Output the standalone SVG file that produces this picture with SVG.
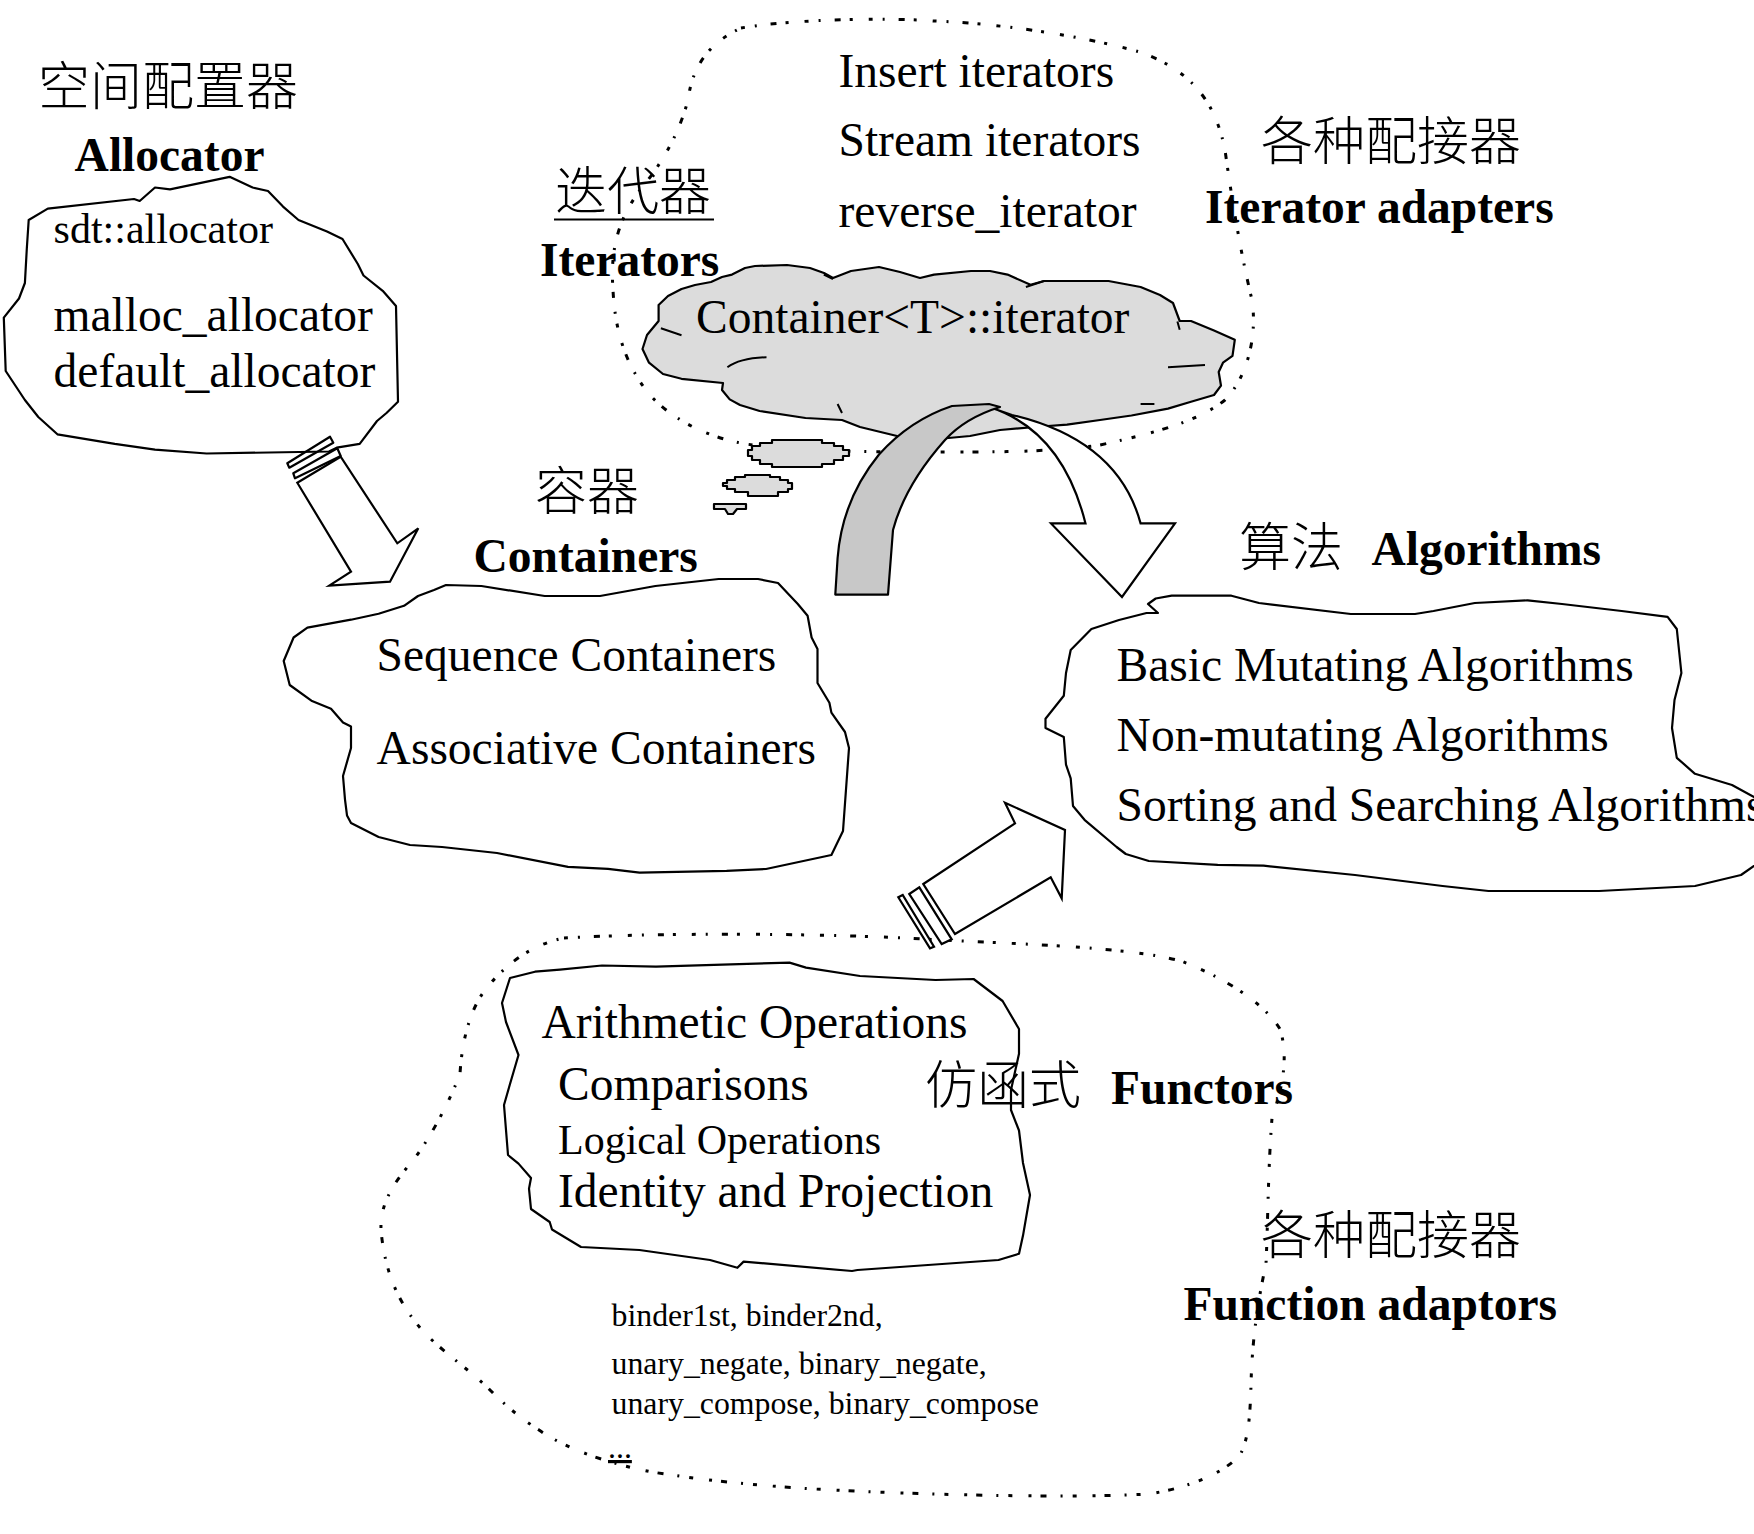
<svg xmlns="http://www.w3.org/2000/svg" width="1754" height="1534" viewBox="0 0 1754 1534">
<style>
.cl{fill:#fff;stroke:#000;stroke-width:2.2;stroke-linejoin:round}
.cn{fill:none;stroke:#000;stroke-width:2.2;stroke-linejoin:round}
.gc{fill:#dcdcdc;stroke:#000;stroke-width:2.2;stroke-linejoin:round}
.ln{fill:none;stroke:#000;stroke-width:2}
.dot{fill:none;stroke:#000;stroke-width:3;stroke-dasharray:4 10 2 14 6 9 3 16}
.ar{fill:#fff;stroke:#000;stroke-width:2.2;stroke-linejoin:miter}
.t{font-family:"Liberation Serif","Times New Roman",serif;font-size:47.5px;fill:#000}
.b{font-weight:bold}
.s42{font-size:42px}
.s32{font-size:31.8px}
.cjk{font-family:"Noto Sans CJK SC","Noto Sans CJK TC",sans-serif;font-size:52px;font-weight:300;fill:#000}
</style>

<g id="allocator">
<path class="cn" d="M28.7,220 L47.8,208.6 L134,199 L139.7,201 L155,187.5 L170,189.4 L229.6,176.8 L252.6,187.5 L268,191 L283,206.6 L298.5,220 L327,231.5 L342.5,239 L357.8,264 L363.5,275.5 L382.7,290.8 L396,306 L398,401.8 L386.5,413 L377,421 L359.7,443.9 L336.7,447.7 L329,451.5 L206.6,453.5 L155,449.6 L114.8,443.9 L57.4,434.3 L38.3,417 L24.9,400 L5.7,371 L3.8,317.6 L19,298.5 L24.9,283 L26.8,248.7 Z"/>
<text class="cjk" x="38" y="105">空间配置器</text>
<text class="t b" x="74.6" y="171">Allocator</text>
<text class="t s42" x="53.6" y="243">sdt::allocator</text>
<text class="t" x="53.6" y="331">malloc_allocator</text>
<text class="t" x="53.6" y="386.5">default_allocator</text>
</g>

<g id="iterators">
<path class="dot" d="M741,28 C800,18 900,18 934,21 C1010,24 1090,38 1140,52 C1190,70 1215,100 1225,150 C1232,200 1240,250 1252,300 C1258,340 1245,380 1225,400 C1200,420 1160,432 1100,445 C1050,452 1000,452 950,452 C880,452 800,452 746,444 C700,436 668,415 650,395 C625,365 615,330 613,290 C610,250 618,220 640,190 C665,160 680,130 688,100 C692,70 705,45 741,28 Z"/>
<path class="gc" d="M658.6,305 L668,296 L681.5,289 L695,285 L711,282 L722,277 L732,274.6 L745,268 L755,266 L787,265 L810,268 L824,273 L833,278 L851,271 L879,267 L900,272 L920,278 L934,274.6 L971,271 L990,271 L1007.5,274.6 L1030.5,284.7 L1044,281 L1108.5,281 L1140.6,287 L1160,295 L1173,303 L1179.7,321 L1191,321 L1214,330.6 L1234.8,339.8 L1232.5,355.8 L1223,362.7 L1218.7,372 L1221,385.7 L1214,395 L1191,401.7 L1168,408.6 L1131.5,415.5 L1100,420 L1067,424.7 L1035,427 L1000,430 L970,436 L943,438.5 L897,436 L860,427 L842,420 L805.5,418 L759.6,411 L740,405 L729.7,399.4 L722,390 L723,383 L681.5,378.8 L663,374 L649,362.7 L642.5,349 L647,335 L658.6,321 Z"/>
<path class="ln" d="M660.9,328.3 L681.5,335.2 M727.4,367.3 Q740,358 766.5,357.2 M1168,367.3 L1205,365 M1140.6,404 L1154.4,404 M823.8,274.6 L833,279 M1025.9,287 L1044,281 M1177.4,321.4 L1179.7,329.7 M837.6,404 L842,413"/>
<path class="gc" d="M752,446 L760,446 L760,443 L772,443 L772,440 L822,440 L822,443 L834,443 L834,446 L843,446 L843,450 L849,450 L849,456 L843,456 L843,460 L834,460 L834,464 L822,464 L822,467 L772,467 L772,464 L760,464 L760,460 L752,460 L752,456 L748,456 L748,450 L752,450 Z"/>
<path class="gc" d="M727,480 L735,480 L735,477 L745,477 L745,475 L770,475 L770,477 L780,477 L780,480 L788,480 L788,483 L792,483 L792,489 L788,489 L788,492 L778,492 L778,496 L748,496 L748,492 L735,492 L735,489 L727,489 L727,486 L723,486 L723,483 L727,483 Z"/>
<path class="gc" d="M714,504 L746,504 L746,509 L737,509 L733,514 L728,514 L725,509 L714,509 Z"/>
<text class="cjk" x="555" y="210">迭代器</text>
<line class="ln" x1="554" y1="219.5" x2="714" y2="219.5"/>
<text class="t b" x="540" y="275.5">Iterators</text>
<text class="t" x="838.5" y="87">Insert iterators</text>
<text class="t" x="838.5" y="156">Stream iterators</text>
<text class="t" x="838.5" y="227">reverse_iterator</text>
<text class="cjk" x="1261" y="160">各种配接器</text>
<text class="t b" x="1205" y="223">Iterator adapters</text>
<text class="t" x="696" y="333">Container&lt;T&gt;::iterator</text>
</g>

<g id="containers">
<path class="cl" d="M307.4,627.6 L351,619.7 L378.6,613.7 L404,605.8 L418,596 L434,590 L446,585 L481.4,586 L544.7,596 L600,596 L655.4,586 L718.7,579 L758,579 L778,583 L797.8,604 L807.6,615.7 L811.6,637.5 L817.5,649 L817.5,683 L829.4,702.7 L831.4,712.6 L845,732 L849,748 L843,831 L831.4,855 L766,869 L726.6,870.8 L639.6,872.7 L608,868.8 L568,866.8 L497,853 L442,847 L410,845 L378.6,837 L351,823 L347,815.4 L345,799.6 L343,776 L351,748 L351,726.4 L343,722.5 L331,708.7 L311.4,700.7 L289.7,685 L283.7,661 L293.6,637.5 Z"/>
<text class="cjk" x="535" y="510">容器</text>
<text class="t b" x="473.5" y="572">Containers</text>
<text class="t" x="376.6" y="671">Sequence Containers</text>
<text class="t" x="376.6" y="764">Associative Containers</text>
</g>

<g id="algorithms">
<path class="cl" d="M1158,613 L1148,604 L1155.7,598.5 L1171.7,595.7 L1231.4,595.7 L1259,603 L1350.8,614 L1415,614 L1433.5,611 L1474.8,603 L1527.6,600.3 L1562,604 L1621.7,611 L1667.6,616.8 L1676.8,629 L1681.4,673 L1674.5,700 L1672,728 L1676.8,757.8 L1695,773.8 L1732,785 L1754,797 L1790,805 L1790,860 L1754,866 L1741,875 L1695,886 L1599,891 L1488.5,891 L1442.6,886 L1355,875 L1263.6,865.7 L1217.7,864.8 L1148.8,861 L1125.8,854 L1116.6,847 L1084.5,819.8 L1073,806 L1070.7,778.4 L1066,764.7 L1063.8,737 L1045.5,728 L1045.5,718.7 L1063.8,695.8 L1066,673 L1070.7,650 L1091.4,629 L1119,620 L1146.5,613 Z"/>
<text class="cjk" x="1239" y="566">算法</text>
<text class="t b" x="1371.5" y="565">Algorithms</text>
<text class="t" x="1116.6" y="680.6">Basic Mutating Algorithms</text>
<text class="t" x="1116.6" y="751">Non-mutating Algorithms</text>
<text class="t" x="1116.6" y="820.7">Sorting and Searching Algorithms</text>
</g>

<g id="functors">
<path class="dot" d="M564,938 C650,933 800,933 906,938 C1000,944 1120,945 1181,961 C1230,980 1265,1005 1280,1029 C1290,1060 1280,1095 1272,1118 C1268,1170 1268,1220 1266,1264 C1258,1300 1252,1340 1251,1385 C1250,1420 1248,1440 1240,1455 C1225,1472 1190,1488 1148,1494 C1080,1498 960,1495 902,1493 C820,1490 740,1486 652,1472 C600,1462 560,1445 539,1430 C520,1418 505,1405 490,1390 C470,1370 440,1350 422,1330 C400,1305 385,1275 381,1230 C380,1205 392,1185 410,1164 C430,1140 450,1100 460,1074 C462,1040 470,1010 485,990 C505,965 530,945 564,938 Z"/>
<path class="cn" d="M510,978 L535,971.7 L560,969.7 L602,965.5 L656,966.7 L789.5,962.6 L806,967.6 L860,976 L935.5,980 L973.6,979 L1002.6,1001 L1019,1029 L1019,1053.7 L1011,1090 L1011,1110 L1019,1130.5 L1023,1163 L1030,1195 L1023,1235.6 L1019,1253.8 L998.5,1260 L857.5,1270 L852,1271 L743.6,1261.6 L737.4,1267.8 L710,1260 L639.4,1250 L581,1247 L552,1229.5 L549.7,1222 L531,1209 L529,1188.6 L531,1178 L518.5,1163.6 L508,1155 L506,1130 L504,1105 L510,1084 L518.5,1055 L506,1022 L502,1003 Z"/>
<text class="t" x="541.4" y="1037.6">Arithmetic Operations</text>
<text class="t" x="558" y="1100">Comparisons</text>
<text class="t s42" x="558" y="1154">Logical Operations</text>
<text class="t" x="558" y="1207">Identity and Projection</text>
<text class="cjk" x="925" y="1104">仿函式</text>
<text class="t b" x="1111" y="1104.4">Functors</text>
</g>

<g id="function-adaptors">
<text class="t s32" x="611.5" y="1326">binder1st, binder2nd,</text>
<text class="t s32" x="611.5" y="1374">unary_negate, binary_negate,</text>
<text class="t s32" x="611.5" y="1413.8">unary_compose, binary_compose</text>
<text class="t s32" x="608" y="1458" text-decoration="underline">...</text>
<text class="cjk" x="1261" y="1254">各种配接器</text>
<text class="t b" x="1183.5" y="1320">Function adaptors</text>
</g>

<g id="connectors">
<polygon class="cn" points="287.3,463.3 330,436.7 333.3,442.7 289.3,467.7"/>
<polygon class="cn" points="293.3,473.3 337.3,448.3 340.7,456 295,478.3"/>
<polygon class="ar" points="297.3,482.7 340.7,456.7 397.3,543.3 418.3,528.3 390,581.7 329.3,585.7 351,571.7"/>
<path class="ar" d="M989,407 Q1062,430 1085.5,523.4 L1051,523.4 L1122,597 L1175,523.4 L1140.6,523.4 Q1118,440 1012,415 Z"/>
<path d="M835.3,594.6 L837.6,558 Q842,500 879,454.5 Q910,420 952,406 L989,404 L1000,407 Q965,418 945,440 Q905,485 893,530 L888,594.6 Z" fill="#c8c8c8" stroke="#000" stroke-width="2.2" stroke-linejoin="round"/>
<polygon class="ar" points="898.3,897.3 902.7,895 934,946.7 930,948.3"/>
<polygon class="ar" points="909.3,894 919.3,887.3 951.7,939.3 941.7,944"/>
<polygon class="ar" points="923.3,884 1015,823.3 1005,802.7 1065,830 1061.7,898.3 1050.7,877.3 955,934"/>
</g>
</svg>
